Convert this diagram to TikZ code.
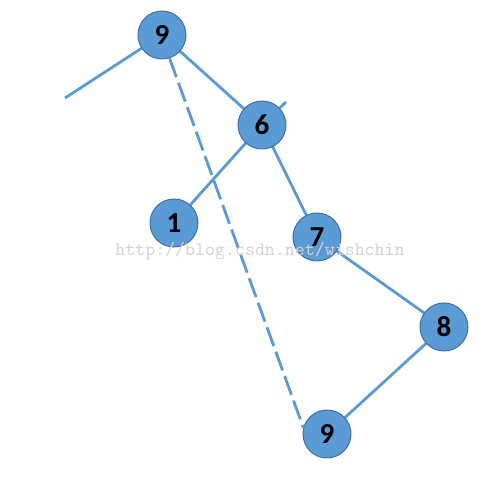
\documentclass[tikz,border=0pt]{standalone}
\usepackage{fontspec}
\usetikzlibrary{backgrounds}
\newfontfamily\numfont{Carlito}
\definecolor{nodeblue}{HTML}{5B9BD5}
\definecolor{nodeedge}{HTML}{41719C}
\begin{document}
\begin{tikzpicture}[x=0.5pt, y=-0.5pt,
    treenode/.style={circle, fill=nodeblue, draw=nodeedge, line width=0.5pt,
      minimum size=24pt, inner sep=0pt, font=\numfont\bfseries\fontsize{14.5}{16}\selectfont},
    edge/.style={draw=nodeblue, line width=1.4pt},
    threadline/.style={draw=nodeblue, line width=1.4pt, dash pattern=on 10pt off 3pt}]
    % canvas, same size as the reference
    \useasboundingbox (0,0) rectangle (500,480);

    % tree nodes
    \node[treenode] (root) at (162,35)  {9};
    \node[treenode] (six)  at (262,125) {6};
    \node[treenode] (one)  at (174,223) {1};
    \node[treenode] (seven) at (317,237) {7};
    \node[treenode] (eight) at (444,327) {8};
    \node[treenode] (last) at (327,434) {9};

    % loose ends
    \coordinate (leftend) at (65,98);
    \coordinate (sixend) at (286,102);

    % edges behind the nodes
    \begin{pgfonlayer}{background}
    \draw[edge] (root.center) -- (leftend);
    \draw[edge] (root.center) -- (six.center);
    \draw[edge] (six.center) -- (sixend);
    \draw[edge] (six.center) -- (one.center);
    \draw[edge] (six.center) -- (seven.center);
    \draw[edge] (seven.center) -- (eight.center);
    \draw[edge] (eight.center) -- (last.center);
    \end{pgfonlayer}

    % dashed thread
    \draw[threadline] (root.-72) -- (last.165);

    % watermark
    \node[font=\ttfamily\fontsize{9.5}{11}\selectfont, text=gray!35] (mark) at (260,251) {http://blog.csdn.net/wishchin};
\end{tikzpicture}
\end{document}
